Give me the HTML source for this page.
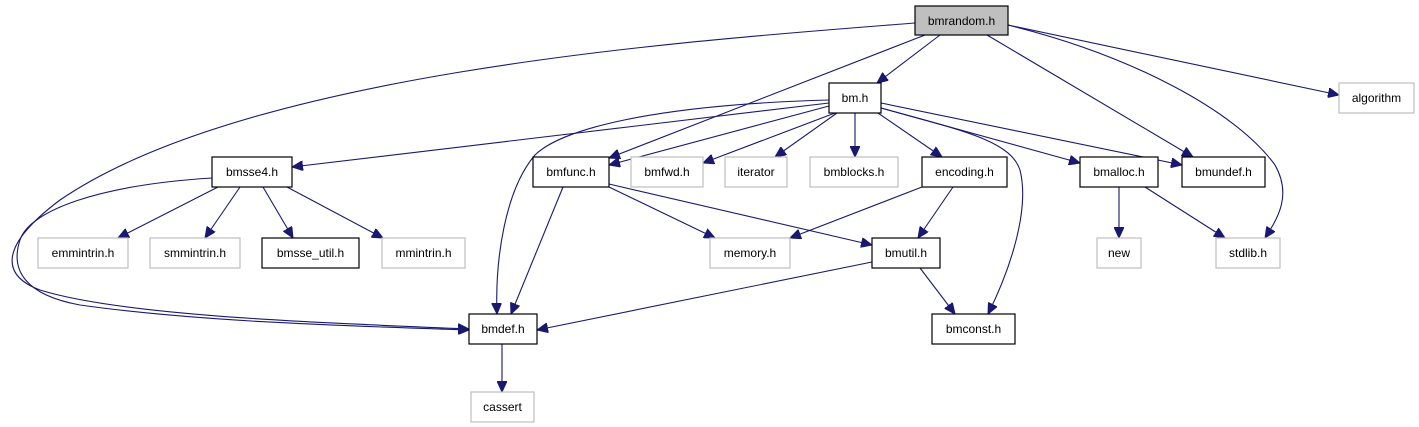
<!DOCTYPE html>
<html><head><meta charset="utf-8"><style>
html,body{margin:0;padding:0;background:#fff;}
svg{display:block}
text{font-family:"Liberation Sans",Arial,sans-serif;font-size:12px;fill:#000;text-anchor:middle}
.b{fill:#fff;stroke:#000;stroke-width:1.2}
.g{fill:#fff;stroke:#bfbfbf;stroke-width:1.2}
.e{fill:none;stroke:#191970;stroke-width:1.1}
</style></head><body>
<svg width="1419" height="427" viewBox="0 0 1419 427" xmlns="http://www.w3.org/2000/svg">
<defs><marker id="a" markerWidth="12" markerHeight="10" refX="11" refY="5" orient="auto" markerUnits="userSpaceOnUse">
<path d="M0,0 L11,5 L0,10 Z" fill="#191970" stroke="#191970"/></marker></defs>
<g class="e" marker-end="url(#a)">
<path d="M940,35 L877,83"/>
<path d="M925,35 L609,158"/>
<path d="M915,23 C700,40 250,70 60,200 C0,245 0,275 40,290 C120,315 300,322 469,329"/>
<path d="M987,35 L1193,157"/>
<path d="M1008,25 C1130,55 1235,110 1275,165 C1292,195 1278,218 1265,238"/>
<path d="M1008,25 L1339,95"/>
<path d="M829,103 L292,167"/>
<path d="M829,100 C650,105 560,130 535,155 C505,190 495,260 497,314"/>
<path d="M829,106 L609,165"/>
<path d="M835,113 L703,163"/>
<path d="M837,113 L775,157"/>
<path d="M855,113 L855,157"/>
<path d="M878,113 L942,157"/>
<path d="M881,108 C960,130 1010,140 1020,170 C1030,210 1010,270 988,314"/>
<path d="M881,108 L1080,163"/>
<path d="M881,103 L1182,165"/>
<path d="M218,187 L118,238"/>
<path d="M240,187 L205,238"/>
<path d="M263,187 L293,238"/>
<path d="M287,187 L383,238"/>
<path d="M212,178 C100,185 30,210 20,240 C10,270 25,295 80,305 C200,322 350,326 469,330"/>
<path d="M563,187 L511,314"/>
<path d="M609,187 L715,238"/>
<path d="M609,184 L872,245"/>
<path d="M922,187 L790,238"/>
<path d="M953,187 L918,238"/>
<path d="M872,262 L537,330"/>
<path d="M920,268 L955,314"/>
<path d="M1119,187 L1119,238"/>
<path d="M1145,187 L1225,238"/>
<path d="M502,344 L502,392"/>
</g>
<rect x="915" y="6" width="93" height="29" fill="#bfbfbf" stroke="#000" stroke-width="1.2"/><text x="961.5" y="25">bmrandom.h</text>
<rect class="b" x="829" y="83" width="52" height="30"/><text x="855" y="102">bm.h</text>
<rect class="g" x="1339" y="83" width="75" height="30"/><text x="1376.5" y="102">algorithm</text>
<rect class="b" x="212" y="157" width="80" height="30"/><text x="252" y="176">bmsse4.h</text>
<rect class="b" x="533" y="157" width="76" height="30"/><text x="571" y="176">bmfunc.h</text>
<rect class="g" x="631" y="157" width="72" height="30"/><text x="667" y="176">bmfwd.h</text>
<rect class="g" x="725" y="157" width="62" height="30"/><text x="756" y="176">iterator</text>
<rect class="g" x="810" y="157" width="88" height="30"/><text x="854" y="176">bmblocks.h</text>
<rect class="b" x="922" y="157" width="85" height="30"/><text x="964.5" y="176">encoding.h</text>
<rect class="b" x="1080" y="157" width="78" height="30"/><text x="1119" y="176">bmalloc.h</text>
<rect class="b" x="1182" y="157" width="83" height="30"/><text x="1223.5" y="176">bmundef.h</text>
<rect class="g" x="38" y="238" width="90" height="30"/><text x="83" y="257">emmintrin.h</text>
<rect class="g" x="150" y="238" width="90" height="30"/><text x="195" y="257">smmintrin.h</text>
<rect class="b" x="262" y="238" width="97" height="30"/><text x="310.5" y="257">bmsse_util.h</text>
<rect class="g" x="382" y="238" width="83" height="30"/><text x="423.5" y="257">mmintrin.h</text>
<rect class="g" x="710" y="238" width="80" height="30"/><text x="750" y="257">memory.h</text>
<rect class="b" x="872" y="238" width="68" height="30"/><text x="906" y="257">bmutil.h</text>
<rect class="g" x="1097" y="238" width="44" height="30"/><text x="1119" y="257">new</text>
<rect class="g" x="1216" y="238" width="64" height="30"/><text x="1248" y="257">stdlib.h</text>
<rect class="b" x="469" y="314" width="68" height="30"/><text x="503" y="333">bmdef.h</text>
<rect class="b" x="932" y="314" width="83" height="30"/><text x="973.5" y="333">bmconst.h</text>
<rect class="g" x="471" y="392" width="63" height="30"/><text x="502.5" y="411">cassert</text>
</svg>
</body></html>
